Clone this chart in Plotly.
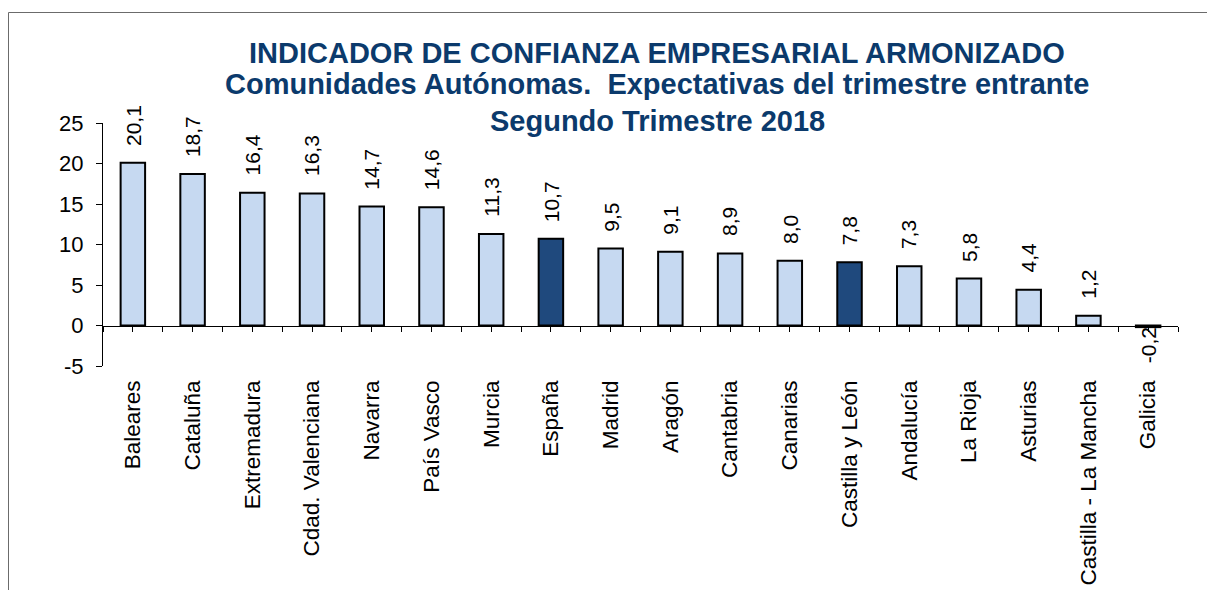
import plotly.graph_objects as go

categories = ["Baleares", "Cataluña", "Extremadura", "Cdad. Valenciana", "Navarra",
              "País Vasco", "Murcia", "España", "Madrid", "Aragón", "Cantabria",
              "Canarias", "Castilla y León", "Andalucía", "La Rioja", "Asturias",
              "Castilla - La Mancha", "Galicia"]
values = [20.1, 18.7, 16.4, 16.3, 14.7, 14.6, 11.3, 10.7, 9.5, 9.1, 8.9, 8.0,
          7.8, 7.3, 5.8, 4.4, 1.2, -0.2]
highlighted = ["España", "Castilla y León"]
y_ticks = [-5, 0, 5, 10, 15, 20, 25]
y_tick_text = ["-5", "0", "5", "10", "15", "20", "25"]

title_lines = ["INDICADOR DE CONFIANZA EMPRESARIAL ARMONIZADO",
               "Comunidades Autónomas.\u00a0 Expectativas del trimestre entrante",
               "Segundo Trimestre 2018"]

LIGHT = "#C6D9F1"
DARK = "#1F497D"
TITLE_C = "#0B3A6C"
FONT = "Arial, Liberation Sans, sans-serif"

# page body adds an 8px offset; figure sized so it fits the 1215x590 window
W, H = 1207, 582
ML, MR, MT, MB = 95, 37, 115, 224
PLOT_W = W - ML - MR
PLOT_H = H - MT - MB


def px(xs):
    return (xs - 8 - ML) / PLOT_W


def py(ys):
    return (H - MB - (ys - 8)) / PLOT_H


idx = list(range(len(categories)))
colors = [DARK if c in highlighted else LIGHT for c in categories]
labels = [f"{v:.1f}".replace(".", ",") for v in values]

fig = go.Figure()
fig.add_bar(x=idx, y=values, width=0.41,
            marker=dict(color=colors, line=dict(color="black", width=2)),
            hoverinfo="skip")

annotations = []
for i, v, t in zip(idx, values, labels):
    if v >= 0:
        annotations.append(dict(x=i, y=v, xref="x", yref="y", text=t, showarrow=False,
                                textangle=-90, yanchor="bottom", xanchor="center",
                                yshift=15, font=dict(family=FONT, size=21, color="black")))
    else:
        annotations.append(dict(x=i, y=v, xref="x", yref="y", text=t, showarrow=False,
                                textangle=-90, yanchor="top", xanchor="center",
                                yshift=2, font=dict(family=FONT, size=21, color="black")))

title_y = [53, 84, 121]
for line, yy in zip(title_lines, title_y):
    annotations.append(dict(x=px(657), y=py(yy), xref="paper", yref="paper",
                            text=f"<b>{line}</b>", showarrow=False, xanchor="center", yanchor="middle",
                            font=dict(family=FONT, size=29, color=TITLE_C)))

fig.update_layout(
    width=W, height=H,
    margin=dict(l=ML, r=MR, t=MT, b=MB),
    paper_bgcolor="white", plot_bgcolor="white",
    showlegend=False,
    annotations=annotations,
    font=dict(family=FONT, color="black"),
    shapes=[dict(type="rect", xref="paper", yref="paper",
                 x0=px(8.5), x1=1.2, y0=-1.5, y1=py(12.5),
                 line=dict(color="#6b6b6b", width=1), fillcolor="rgba(0,0,0,0)", layer="below")],
)
fig.update_xaxes(range=[-0.5, len(categories) - 0.5], tickmode="array", tickvals=idx,
                 ticktext=categories, tickangle=-90, ticks="outside", ticklen=5,
                 tickcolor="black", tickwidth=1, showline=True, linecolor="black", linewidth=1,
                 anchor="free", position=5 / 30, showgrid=False, zeroline=False,
                 ticklabelstandoff=40, automargin=False,
                 tickfont=dict(family=FONT, size=22.5, color="black"),
                 minor=dict(tickmode="array", tickvals=[i + 0.5 for i in range(-1, len(categories))],
                            ticks="outside", ticklen=5, tickcolor="black", tickwidth=1,
                            showgrid=False))
fig.update_yaxes(range=[-5, 25], tickmode="array", tickvals=y_ticks, ticktext=y_tick_text,
                 ticks="outside",
                 ticklen=6, tickcolor="black", showline=True, linecolor="black", linewidth=1,
                 showgrid=False, zeroline=False, ticklabelstandoff=8, automargin=False,
                 tickfont=dict(family=FONT, size=22, color="black"))

fig.write_html("out.html")
